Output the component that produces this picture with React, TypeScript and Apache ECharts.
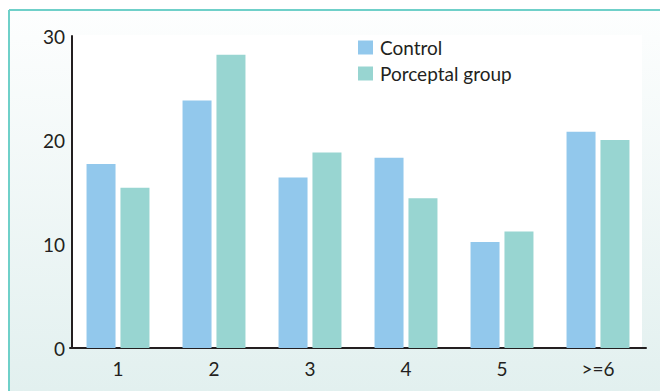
import React, { useEffect, useRef } from "react";
import * as echarts from "echarts";

const categories = ["1", "2", "3", "4", "5", ">=6"];
const controlValues = [17.7, 23.8, 16.4, 18.3, 10.2, 20.8];
const porceptalValues = [15.4, 28.2, 18.8, 14.4, 11.2, 20.0];
const seriesNames = ["Control", "Porceptal group"];
const yTicks = { min: 0, max: 30, interval: 10 };

const FONT = "Lato, 'Open Sans', sans-serif";
const TEXT = "#231f20";

export default function App() {
  const ref = useRef<HTMLDivElement>(null);
  useEffect(() => {
    if (!ref.current) return;
    const chart = echarts.init(ref.current, null, { renderer: "svg" });
    chart.setOption({
      animation: false,
      backgroundColor: "#ffffff",
      graphic: [
        {
          type: "rect",
          z: -10,
          silent: true,
          shape: { x: 10, y: 11, width: 650, height: 380 },
          style: {
            fill: new echarts.graphic.LinearGradient(0, 0, 0, 1, [
              { offset: 0, color: "#fdfefe" },
              { offset: 1, color: "#e2f0ef" },
            ]),
          },
        },
        {
          type: "rect",
          z: -9,
          silent: true,
          shape: { x: 72, y: 35, width: 570, height: 314 },
          style: { fill: "#ffffff" },
        },
        {
          type: "line",
          silent: true,
          shape: { x1: 9, y1: 10, x2: 660, y2: 10 },
          style: { stroke: "#6fd0c9", lineWidth: 2 },
        },
        {
          type: "line",
          silent: true,
          shape: { x1: 9, y1: 10, x2: 9, y2: 391 },
          style: { stroke: "#6fd0c9", lineWidth: 2 },
        },
      ],
      grid: { left: 70, right: 14, top: 36, bottom: 43 },
      legend: {
        data: seriesNames,
        orient: "vertical",
        left: 353,
        top: 33,
        itemWidth: 15,
        itemHeight: 14,
        itemGap: 7,
        icon: "rect",
        textStyle: { fontFamily: FONT, fontSize: 19, color: TEXT, padding: [0, 0, 0, 2] },
      },
      xAxis: {
        type: "category",
        data: categories,
        axisLine: { lineStyle: { color: TEXT, width: 2 } },
        axisTick: { show: false },
        axisLabel: { fontFamily: FONT, fontSize: 19, color: TEXT, margin: 11 },
      },
      yAxis: {
        type: "value",
        min: yTicks.min,
        max: yTicks.max,
        interval: yTicks.interval,
        offset: -2,
        splitLine: { show: false },
        axisLine: { show: true, lineStyle: { color: TEXT, width: 2 } },
        axisTick: { show: false },
        axisLabel: { fontFamily: FONT, fontSize: 19, color: TEXT, margin: 7 },
      },
      series: [
        {
          name: seriesNames[0],
          type: "bar",
          data: controlValues,
          barWidth: 29,
          barGap: "17%",
          itemStyle: { color: "#92c8ec" },
        },
        {
          name: seriesNames[1],
          type: "bar",
          data: porceptalValues,
          barWidth: 29,
          barGap: "17%",
          itemStyle: { color: "#98d5d1" },
        },
      ],
    });
    return () => chart.dispose();
  }, []);
  return (
    <div
      ref={ref}
      style={{ position: "fixed", left: 0, top: 0, width: 660, height: 391 }}
    />
  );
}
